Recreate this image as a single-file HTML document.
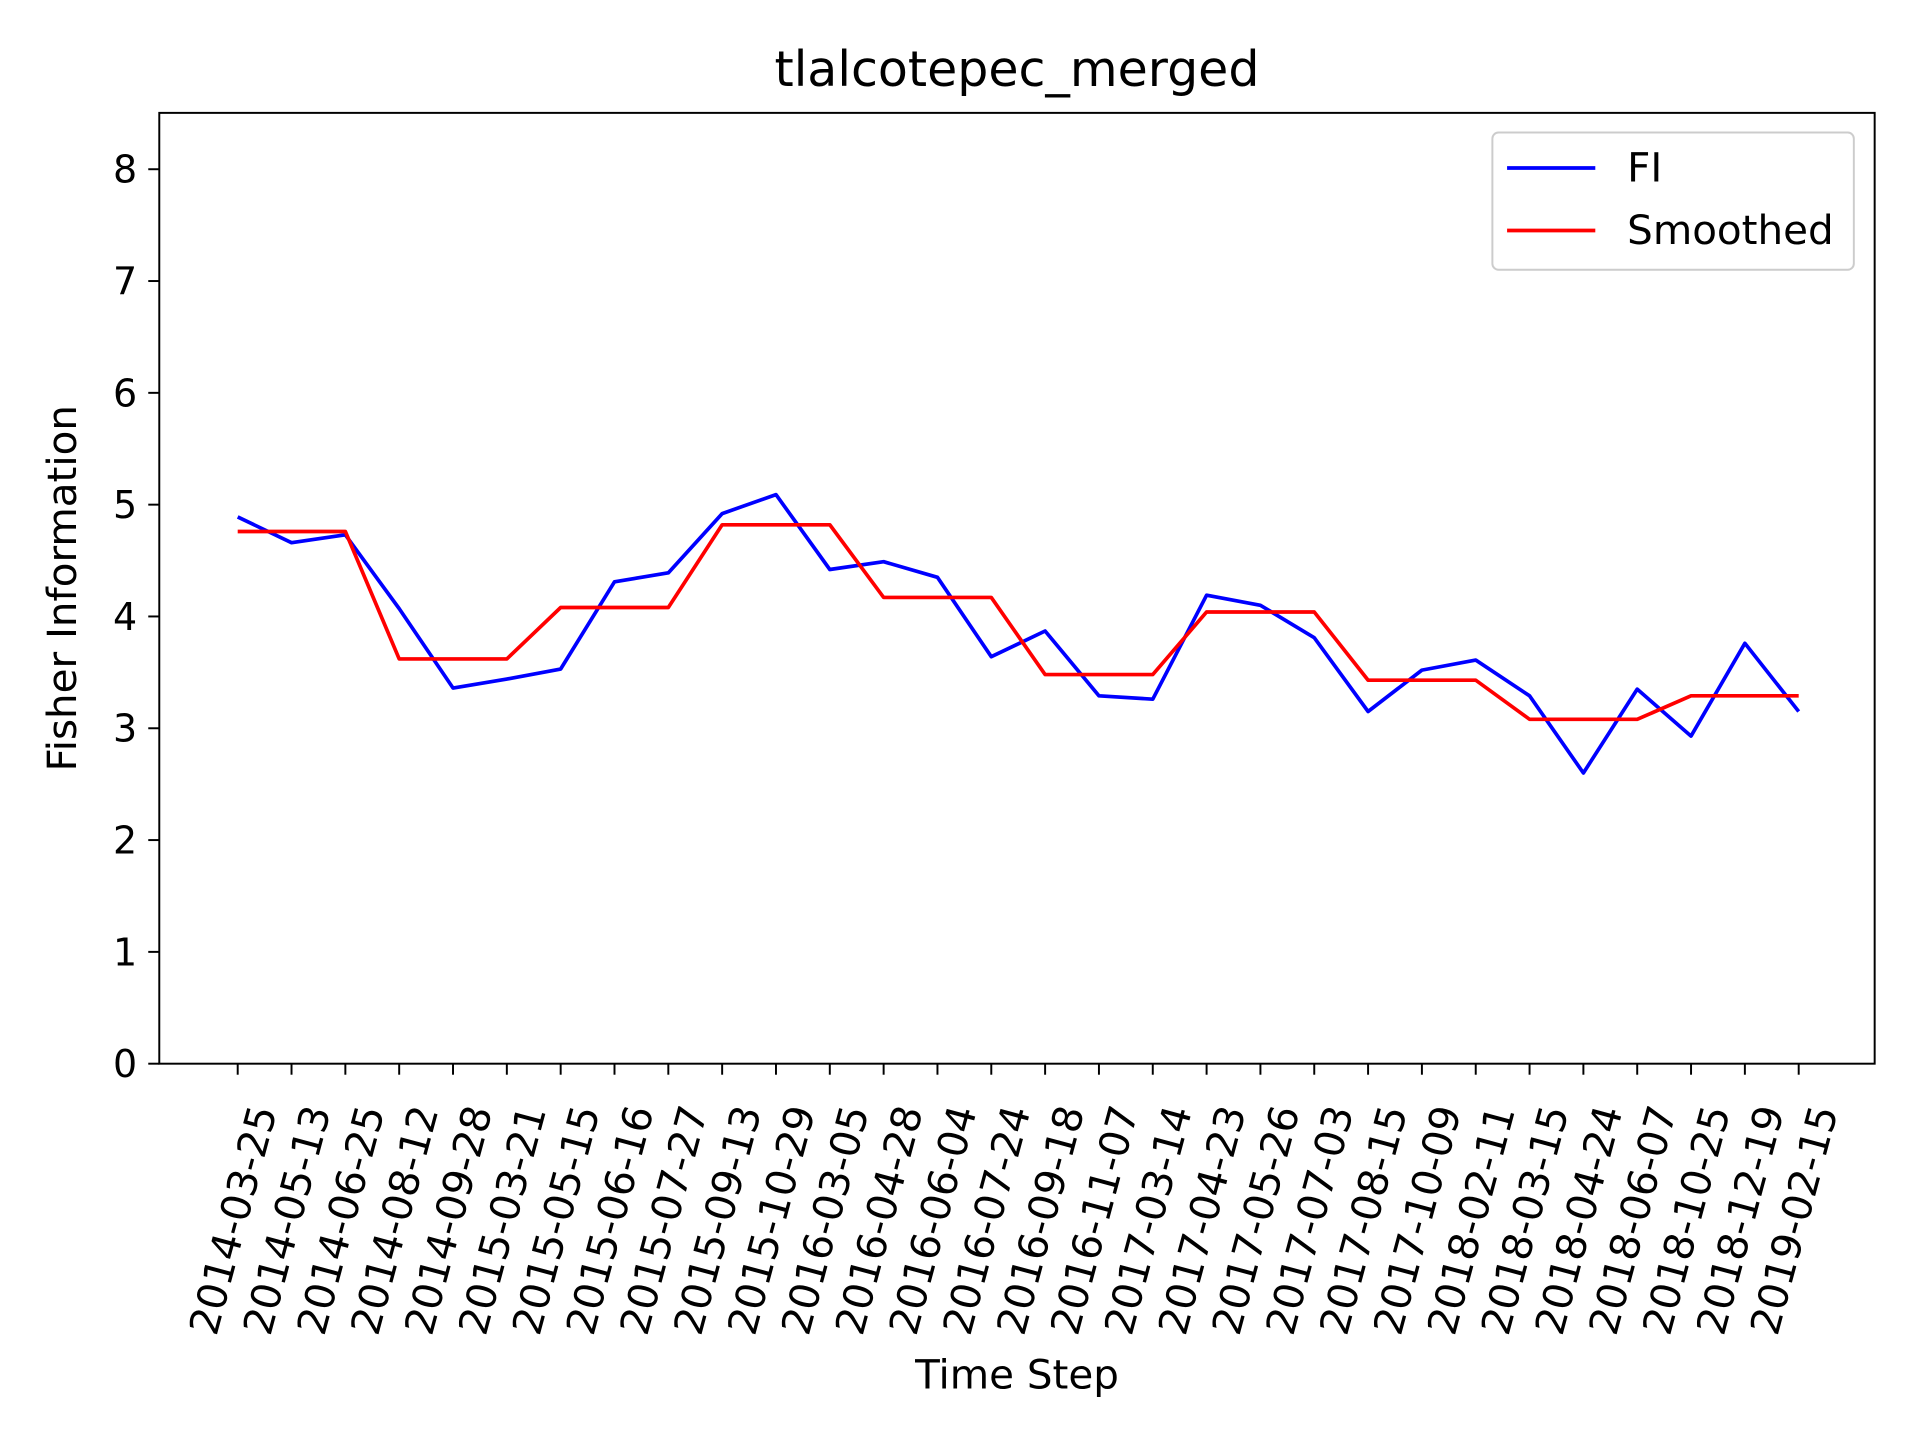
<!DOCTYPE html>
<html><head><meta charset="utf-8"><style>
html,body{margin:0;padding:0;background:#fff;}
svg{display:block;font-family:"DejaVu Sans","Liberation Sans",sans-serif;}
</style></head><body>
<svg id="chart" width="1920" height="1440" viewBox="0 0 1567 1175" xmlns="http://www.w3.org/2000/svg">
<rect width="1567" height="1175" fill="#fff"/>
<text x="830" y="70" font-size="40" text-anchor="middle">tlalcotepec_merged</text>
<g id="yaxis"></g>
<g id="xaxis"></g>
<g id="series"></g>
<rect x="130" y="92" width="1400" height="776" fill="none" stroke="#000" stroke-width="1.6"/>
<text transform="translate(62,480) rotate(-90)" font-size="33" text-anchor="middle">Fisher Information</text>
<text x="830" y="1133" font-size="33" text-anchor="middle">Time Step</text>
<g>
<rect x="1218" y="108" width="295" height="112" rx="5" fill="#fff" stroke="#ccc" stroke-width="1.6"/>
<line x1="1230" y1="137" x2="1302" y2="137" stroke="#0000ff" stroke-width="3"/>
<text x="1328" y="148" font-size="33">FI</text>
<line x1="1230" y1="188" x2="1302" y2="188" stroke="#ff0000" stroke-width="3"/>
<text x="1328" y="199" font-size="33">Smoothed</text>
</g>
</svg>
<script>
const categories = ["2014-03-25","2014-05-13","2014-06-25","2014-08-12","2014-09-28","2015-03-21","2015-05-15","2015-06-16","2015-07-27","2015-09-13","2015-10-29","2016-03-05","2016-04-28","2016-06-04","2016-07-24","2016-09-18","2016-11-07","2017-03-14","2017-04-23","2017-05-26","2017-07-03","2017-08-15","2017-10-09","2018-02-11","2018-03-15","2018-04-24","2018-06-07","2018-10-25","2018-12-19","2019-02-15"];
const fiValues = [4.89,4.66,4.73,4.07,3.36,3.44,3.53,4.31,4.39,4.92,5.09,4.42,4.49,4.35,3.64,3.87,3.29,3.26,4.19,4.10,3.81,3.15,3.52,3.61,3.29,2.60,3.35,2.93,3.76,3.15];
const smoothedValues = [4.76,4.76,4.76,3.62,3.62,3.62,4.08,4.08,4.08,4.82,4.82,4.82,4.17,4.17,4.17,3.48,3.48,3.48,4.04,4.04,4.04,3.43,3.43,3.43,3.08,3.08,3.08,3.29,3.29,3.29];
const yTicks = [0,1,2,3,4,5,6,7,8];
const NS="http://www.w3.org/2000/svg";
const yMin=0,yMax=8.504,plotTop=92,plotBottom=868;
function yScale(v){return plotBottom-(v-yMin)/(yMax-yMin)*(plotBottom-plotTop);}
function xScale(i){return 194+i*(1468-194)/(categories.length-1);}
function mk(tag,attrs,parent){const e=document.createElementNS(NS,tag);for(const k in attrs)e.setAttribute(k,attrs[k]);parent.appendChild(e);return e;}
const ya=document.getElementById('yaxis'),xa=document.getElementById('xaxis'),sg=document.getElementById('series');
yTicks.forEach(t=>{const y=yScale(t);
 const l=mk('line',{x1:121,x2:130,y1:y,y2:y,stroke:'#000','stroke-width':1.6},ya);
 
 
 const tx=mk('text',{x:112,y:y+11,'font-size':31,'text-anchor':'end'},ya);tx.textContent=t;
 
 
});
categories.forEach((c,i)=>{const x=xScale(i);
 const l=mk('line',{x1:x,x2:x,y1:868,y2:877,stroke:'#000','stroke-width':1.6},xa);
 
 
 const tx=mk('text',{transform:`translate(${x+21},903) rotate(-75)`,'font-size':33,'text-anchor':'end',dy:'0.35em'},xa);tx.textContent=c;
 
 
});
function line(vals,color,name){const p=mk('polyline',{points:vals.map((v,i)=>xScale(i)+','+yScale(v)).join(' '),fill:'none',stroke:color,'stroke-width':3,'stroke-linejoin':'round'},sg);
 
 }
line(fiValues,'#0000ff','fi-line');
line(smoothedValues,'#ff0000','smoothed-line');
</script>
</body></html>
